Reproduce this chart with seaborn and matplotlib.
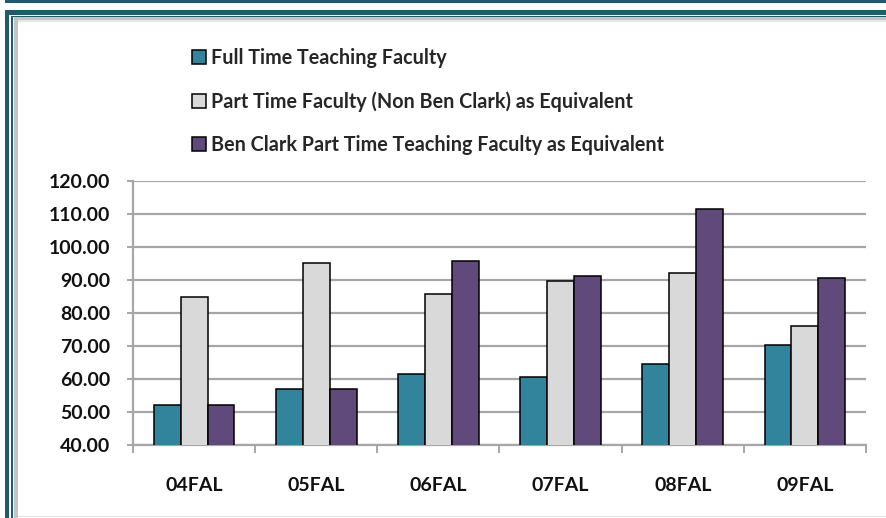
import matplotlib
matplotlib.use("Agg")
import matplotlib.pyplot as plt
from matplotlib.patches import Rectangle
from matplotlib.ticker import FixedLocator, FormatStrFormatter
import seaborn as sns
import pandas as pd

categories = ["04FAL", "05FAL", "06FAL", "07FAL", "08FAL", "09FAL"]
series_names = [
    "Full Time Teaching Faculty",
    "Part Time Faculty (Non Ben Clark) as Equivalent",
    "Ben Clark Part Time Teaching Faculty as Equivalent",
]
full_time = [52.0, 56.9, 61.5, 60.5, 64.6, 70.2]
part_time_non_bc = [84.7, 95.2, 85.7, 89.8, 92.2, 76.0]
ben_clark_pt = [52.0, 56.9, 95.9, 91.3, 111.6, 90.5]
colors = ["#31849B", "#D9D9D9", "#604A7B"]

rows = []
for name, vals in zip(series_names, [full_time, part_time_non_bc, ben_clark_pt]):
    for c, v in zip(categories, vals):
        rows.append({"Term": c, "Series": name, "Value": v})
df = pd.DataFrame(rows)

sns.set_theme(style="white")
plt.rcParams["font.family"] = ["Lato", "DejaVu Sans"]
plt.rcParams["font.weight"] = "bold"

W, H = 887, 518
fig = plt.figure(figsize=(W / 100, H / 100), dpi=100)
fig.patch.set_facecolor("white")

def px_rect(x0, y0, x1, y1, color):
    fig.patches.append(Rectangle((x0 / W, 1 - y1 / H), (x1 - x0) / W, (y1 - y0) / H,
                                 transform=fig.transFigure, facecolor=color,
                                 edgecolor="none", zorder=0))

teal = "#215B6B"
px_rect(5, 0, W, 3, teal)
px_rect(5, 9.5, W, 14.5, teal)
px_rect(5, 9.5, 9.5, H, teal)
px_rect(11.5, 15.5, W, 16.8, teal)
px_rect(11.5, 15.5, 12.8, H, teal)
px_rect(14, 17, W, 20.5, "#C4C4C4")
px_rect(14, 17, 17.5, H, "#C4C4C4")
px_rect(17.5, 20.5, W, 22, "#E6E6E6")
px_rect(17.5, 515.5, W, 516.5, "#E0E0E0")

ax = fig.add_axes([133 / W, 1 - 445 / H, (866 - 133) / W, (445 - 181) / H])
sns.barplot(data=df, x="Term", y="Value", hue="Series", order=categories,
            hue_order=series_names, palette=colors, width=0.66, ax=ax,
            edgecolor="black", linewidth=1.1, saturation=1, errorbar=None,
            zorder=3)

ax.set_ylim(40, 120)
ax.set_xlim(-0.5, len(categories) - 0.5)
ax.yaxis.set_major_locator(FixedLocator([40, 50, 60, 70, 80, 90, 100, 110, 120]))
ax.yaxis.set_major_formatter(FormatStrFormatter("%.2f"))
ax.grid(axis="y", color="#A6A6A6", linewidth=1.6, zorder=0)
ax.set_axisbelow(True)
for s in ["top", "right"]:
    ax.spines[s].set_visible(False)
for s in ["left", "bottom"]:
    ax.spines[s].set_color("#A6A6A6")
    ax.spines[s].set_linewidth(1.6)
ax.set_xlabel("")
ax.set_ylabel("")

ax.tick_params(axis="y", which="major", left=True, length=4.5, width=1.4,
               color="#A6A6A6", pad=12, labelsize=14, labelcolor="#111111")
ax.tick_params(axis="x", which="major", bottom=False, length=0, pad=23,
               labelsize=14, labelcolor="#111111")
ax.xaxis.set_minor_locator(FixedLocator([i - 0.5 for i in range(len(categories) + 1)]))
ax.tick_params(axis="x", which="minor", bottom=True, length=5.5, width=1.4,
               color="#A6A6A6")
for lab in ax.get_xticklabels() + ax.get_yticklabels():
    lab.set_fontweight("bold")

handles, labels = ax.get_legend_handles_labels()
ax.legend(handles, labels, loc="upper left", bbox_to_anchor=(192 / W, 1 - 48 / H),
          bbox_transform=fig.transFigure, frameon=False,
          handlelength=0.72, handleheight=0.72, handletextpad=0.22,
          labelspacing=1.17, borderaxespad=0, borderpad=0,
          prop={"weight": "bold", "size": 14.2})

fig.savefig("out.png", dpi=100, facecolor="white")
